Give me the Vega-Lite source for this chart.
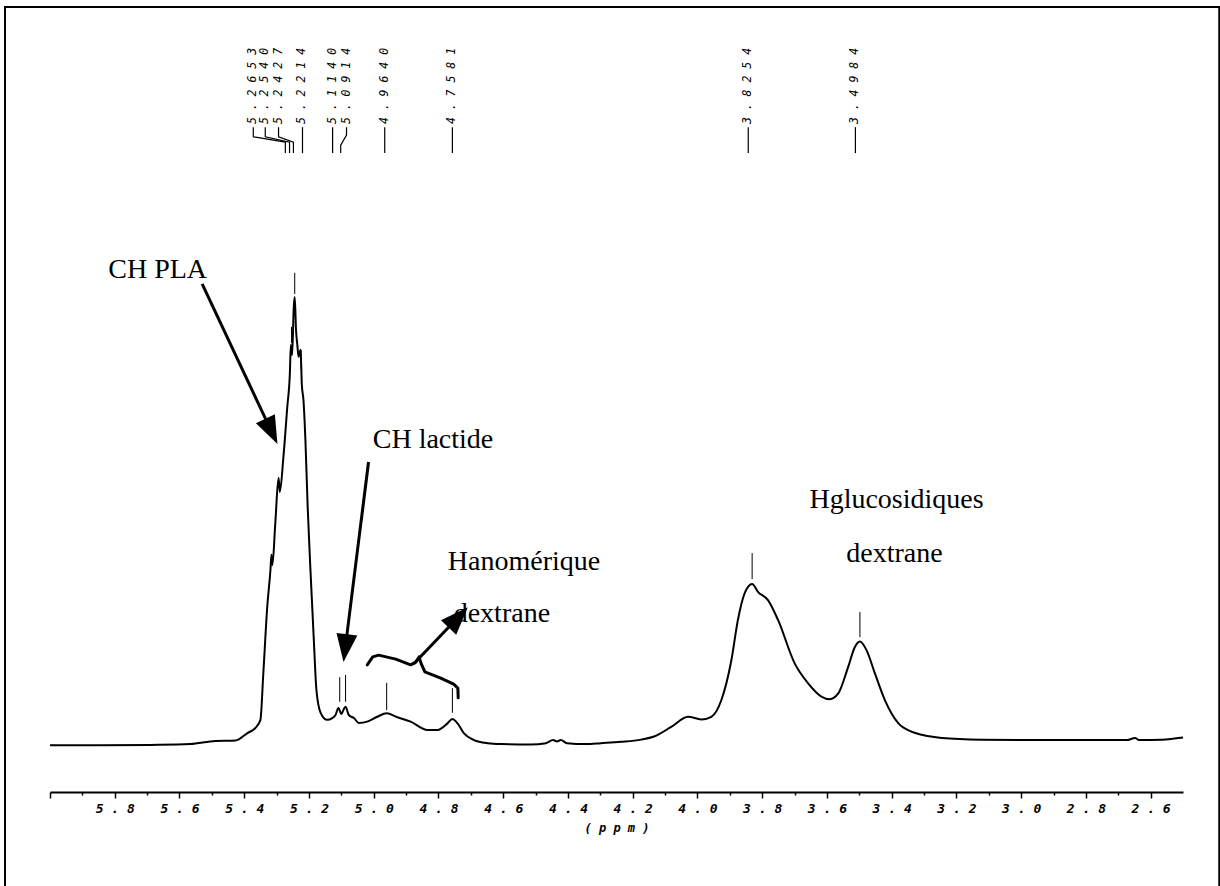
{
  "$schema": "https://vega.github.io/schema/vega-lite/v6.json",
  "width": 1133,
  "height": 792,
  "autosize": {"type": "none"},
  "padding": {"left": 50, "top": 0, "right": 37, "bottom": 94},
  "background": "white",
  "config": {"view": {"stroke": null}},
  "resolve": {"axis": {"x": "independent"}},
  "datasets": {
    "frame": [{"ppm": 6.139, "ppm2": 2.388, "I": 168.4, "I2": -32.3}],
    "spectrum": [
      {"ppm": 6.000, "I": 0.6}, {"ppm": 5.845, "I": 0.6}, {"ppm": 5.690, "I": 0.7}, {"ppm": 5.567, "I": 0.9},
      {"ppm": 5.489, "I": 1.6}, {"ppm": 5.427, "I": 1.7}, {"ppm": 5.390, "I": 3.4}, {"ppm": 5.366, "I": 4.5},
      {"ppm": 5.350, "I": 6.4}, {"ppm": 5.341, "I": 17.0}, {"ppm": 5.329, "I": 32.0}, {"ppm": 5.319, "I": 40.5},
      {"ppm": 5.316, "I": 43.9}, {"ppm": 5.313, "I": 41.6}, {"ppm": 5.304, "I": 51.1}, {"ppm": 5.294, "I": 61.4},
      {"ppm": 5.290, "I": 58.2}, {"ppm": 5.279, "I": 66.1}, {"ppm": 5.267, "I": 77.5}, {"ppm": 5.259, "I": 85.2},
      {"ppm": 5.256, "I": 91.6}, {"ppm": 5.252, "I": 89.3}, {"ppm": 5.247, "I": 100.2}, {"ppm": 5.244, "I": 102.5},
      {"ppm": 5.240, "I": 95.0}, {"ppm": 5.236, "I": 91.6}, {"ppm": 5.232, "I": 88.9}, {"ppm": 5.226, "I": 90.5},
      {"ppm": 5.222, "I": 82.5}, {"ppm": 5.217, "I": 79.1}, {"ppm": 5.211, "I": 70.0}, {"ppm": 5.204, "I": 54.8},
      {"ppm": 5.195, "I": 39.8}, {"ppm": 5.185, "I": 24.5}, {"ppm": 5.177, "I": 13.2}, {"ppm": 5.164, "I": 8.0},
      {"ppm": 5.144, "I": 6.4}, {"ppm": 5.128, "I": 6.8}, {"ppm": 5.118, "I": 7.5}, {"ppm": 5.109, "I": 9.1},
      {"ppm": 5.100, "I": 7.7}, {"ppm": 5.094, "I": 8.6}, {"ppm": 5.087, "I": 9.4}, {"ppm": 5.077, "I": 7.5},
      {"ppm": 5.061, "I": 6.8}, {"ppm": 5.046, "I": 5.7}, {"ppm": 5.020, "I": 6.0}, {"ppm": 4.989, "I": 7.1},
      {"ppm": 4.960, "I": 7.9}, {"ppm": 4.927, "I": 7.0}, {"ppm": 4.886, "I": 6.0}, {"ppm": 4.834, "I": 4.1},
      {"ppm": 4.803, "I": 4.1}, {"ppm": 4.772, "I": 5.6}, {"ppm": 4.757, "I": 6.6}, {"ppm": 4.741, "I": 5.6},
      {"ppm": 4.721, "I": 3.3}, {"ppm": 4.690, "I": 1.8}, {"ppm": 4.648, "I": 1.1}, {"ppm": 4.607, "I": 0.9},
      {"ppm": 4.514, "I": 0.8}, {"ppm": 4.468, "I": 1.1}, {"ppm": 4.446, "I": 1.8}, {"ppm": 4.434, "I": 1.5},
      {"ppm": 4.422, "I": 1.8}, {"ppm": 4.403, "I": 1.1}, {"ppm": 4.344, "I": 0.9}, {"ppm": 4.298, "I": 1.1},
      {"ppm": 4.236, "I": 1.4}, {"ppm": 4.174, "I": 1.9}, {"ppm": 4.134, "I": 2.6}, {"ppm": 4.081, "I": 4.8},
      {"ppm": 4.029, "I": 7.1}, {"ppm": 3.988, "I": 6.5}, {"ppm": 3.957, "I": 7.1}, {"ppm": 3.926, "I": 10.9},
      {"ppm": 3.895, "I": 20.0}, {"ppm": 3.875, "I": 29.1}, {"ppm": 3.854, "I": 35.2}, {"ppm": 3.831, "I": 37.3},
      {"ppm": 3.813, "I": 35.5}, {"ppm": 3.782, "I": 33.6}, {"ppm": 3.751, "I": 29.1}, {"ppm": 3.700, "I": 19.3},
      {"ppm": 3.658, "I": 14.7}, {"ppm": 3.617, "I": 11.7}, {"ppm": 3.591, "I": 11.1}, {"ppm": 3.565, "I": 12.4},
      {"ppm": 3.534, "I": 18.5}, {"ppm": 3.514, "I": 22.9}, {"ppm": 3.498, "I": 24.2}, {"ppm": 3.478, "I": 22.3},
      {"ppm": 3.452, "I": 17.0}, {"ppm": 3.421, "I": 10.9}, {"ppm": 3.379, "I": 5.6}, {"ppm": 3.338, "I": 3.7},
      {"ppm": 3.307, "I": 3.0}, {"ppm": 3.245, "I": 2.3}, {"ppm": 3.122, "I": 1.9}, {"ppm": 2.967, "I": 1.8},
      {"ppm": 2.812, "I": 1.8}, {"ppm": 2.673, "I": 1.8}, {"ppm": 2.648, "I": 2.3}, {"ppm": 2.636, "I": 1.8},
      {"ppm": 2.565, "I": 1.9}, {"ppm": 2.500, "I": 2.4}
    ],
    "markers": [
      {"ppm": 5.244, "I": 108.0, "I2": 103.2},
      {"ppm": 5.254, "I": 95.7, "I2": 92.0},
      {"ppm": 5.224, "I": 90.5, "I2": 86.0},
      {"ppm": 5.105, "I": 16.1, "I2": 10.5},
      {"ppm": 5.087, "I": 16.6, "I2": 10.5},
      {"ppm": 4.960, "I": 14.8, "I2": 8.6},
      {"ppm": 4.757, "I": 13.6, "I2": 8.0},
      {"ppm": 3.831, "I": 44.3, "I2": 38.4},
      {"ppm": 3.498, "I": 30.9, "I2": 25.2}
    ],
    "connectors": [
      {"id": "c1", "ord": 1, "ppm": 5.372, "I": 141.1}, {"id": "c1", "ord": 2, "ppm": 5.372, "I": 138.9},
      {"id": "c1", "ord": 3, "ppm": 5.273, "I": 137.7}, {"id": "c1", "ord": 4, "ppm": 5.273, "I": 135.2},
      {"id": "c2", "ord": 1, "ppm": 5.335, "I": 141.1}, {"id": "c2", "ord": 2, "ppm": 5.335, "I": 138.9},
      {"id": "c2", "ord": 3, "ppm": 5.260, "I": 137.7}, {"id": "c2", "ord": 4, "ppm": 5.260, "I": 135.2},
      {"id": "c3", "ord": 1, "ppm": 5.294, "I": 141.1}, {"id": "c3", "ord": 2, "ppm": 5.294, "I": 138.9},
      {"id": "c3", "ord": 3, "ppm": 5.248, "I": 137.7}, {"id": "c3", "ord": 4, "ppm": 5.248, "I": 135.2},
      {"id": "c4", "ord": 1, "ppm": 5.220, "I": 141.1}, {"id": "c4", "ord": 2, "ppm": 5.220, "I": 135.2},
      {"id": "c5", "ord": 1, "ppm": 5.127, "I": 141.1}, {"id": "c5", "ord": 2, "ppm": 5.127, "I": 135.2},
      {"id": "c6", "ord": 1, "ppm": 5.084, "I": 141.1}, {"id": "c6", "ord": 2, "ppm": 5.084, "I": 139.3},
      {"id": "c6", "ord": 3, "ppm": 5.102, "I": 137.0}, {"id": "c6", "ord": 4, "ppm": 5.102, "I": 135.2},
      {"id": "c7", "ord": 1, "ppm": 4.966, "I": 141.1}, {"id": "c7", "ord": 2, "ppm": 4.966, "I": 135.2},
      {"id": "c8", "ord": 1, "ppm": 4.757, "I": 141.1}, {"id": "c8", "ord": 2, "ppm": 4.757, "I": 135.2},
      {"id": "c9", "ord": 1, "ppm": 3.843, "I": 141.1}, {"id": "c9", "ord": 2, "ppm": 3.843, "I": 135.2},
      {"id": "c10", "ord": 1, "ppm": 3.512, "I": 141.1}, {"id": "c10", "ord": 2, "ppm": 3.512, "I": 135.2}
    ],
    "peaklabels": [
      {"label": "5 . 2 6 5 3", "ppm": 5.372, "I": 141.8},
      {"label": "5 . 2 5 4 0", "ppm": 5.335, "I": 141.8},
      {"label": "5 . 2 4 2 7", "ppm": 5.294, "I": 141.8},
      {"label": "5 . 2 2 1 4", "ppm": 5.220, "I": 141.8},
      {"label": "5 . 1 1 4 0", "ppm": 5.127, "I": 141.8},
      {"label": "5 . 0 9 1 4", "ppm": 5.084, "I": 141.8},
      {"label": "4 . 9 6 4 0", "ppm": 4.966, "I": 141.8},
      {"label": "4 . 7 5 8 1", "ppm": 4.757, "I": 141.8},
      {"label": "3 . 8 2 5 4", "ppm": 3.843, "I": 141.8},
      {"label": "3 . 4 9 8 4", "ppm": 3.512, "I": 141.8}
    ],
    "notes": [
      {"label": "CH PLA", "ppm": 5.820, "I": 106.8},
      {"label": "CH lactide", "ppm": 5.003, "I": 68.2},
      {"label": "Hanomérique", "ppm": 4.771, "I": 40.5},
      {"label": "dextrane", "ppm": 4.753, "I": 28.6},
      {"label": "Hglucosidiques", "ppm": 3.654, "I": 54.5},
      {"label": "dextrane", "ppm": 3.540, "I": 42.3}
    ],
    "arrows": [
      {"id": "pla", "ord": 1, "ppm": 5.530, "I": 105.5}, {"id": "pla", "ord": 2, "ppm": 5.316, "I": 71.95},
      {"id": "lac", "ord": 1, "ppm": 5.016, "I": 65.0}, {"id": "lac", "ord": 2, "ppm": 5.088, "I": 22.7},
      {"id": "han", "ord": 1, "ppm": 4.877, "I": 19.1}, {"id": "han", "ord": 2, "ppm": 4.739, "I": 29.7}
    ],
    "heads": [
      {"id": "pla", "ppm": 5.316, "I": 71.95},
      {"id": "lac", "ppm": 5.088, "I": 22.7},
      {"id": "han", "ppm": 4.739, "I": 29.7}
    ],
    "brace": [
      {"ord": 1, "ppm": 5.020, "I": 18.9}, {"ord": 2, "ppm": 5.003, "I": 20.7}, {"ord": 3, "ppm": 4.985, "I": 21.1},
      {"ord": 4, "ppm": 4.932, "I": 20.2}, {"ord": 5, "ppm": 4.886, "I": 18.9}, {"ord": 6, "ppm": 4.870, "I": 19.5},
      {"ord": 7, "ppm": 4.860, "I": 20.7}, {"ord": 8, "ppm": 4.853, "I": 19.1}, {"ord": 9, "ppm": 4.842, "I": 17.3},
      {"ord": 10, "ppm": 4.793, "I": 15.9}, {"ord": 11, "ppm": 4.753, "I": 14.5}, {"ord": 12, "ppm": 4.740, "I": 13.6},
      {"ord": 13, "ppm": 4.739, "I": 11.4}
    ]
  },
  "layer": [
    {
      "data": {"name": "frame"},
      "mark": {"type": "rect", "filled": false, "stroke": "black", "strokeWidth": 2},
      "encoding": {
        "x": {"field": "ppm", "type": "quantitative", "scale": {"domain": [2.5, 6.0], "reverse": true, "nice": false, "zero": false},
          "axis": {
            "orient": "bottom",
            "values": [5.9, 5.7, 5.5, 5.3, 5.1, 4.9, 4.7, 4.5, 4.3, 4.1, 3.9, 3.7, 3.5, 3.3, 3.1, 2.9, 2.7],
            "title": null,
            "labels": false,
            "domain": false,
            "grid": false,
            "tickColor": "black",
            "tickWidth": 1.5,
            "tickSize": 3
          }
        },
        "x2": {"field": "ppm2"},
        "y": {"field": "I", "type": "quantitative", "scale": {"domain": [-10, 170], "nice": false, "zero": false}, "axis": null},
        "y2": {"field": "I2"}
      }
    },
    {
      "data": {"name": "spectrum"},
      "mark": {"type": "line", "color": "black", "strokeWidth": 2, "interpolate": "monotone"},
      "encoding": {
        "x": {
          "field": "ppm", "type": "quantitative",
          "scale": {"domain": [2.5, 6.0], "reverse": true, "nice": false, "zero": false},
          "axis": {
            "orient": "bottom",
            "values": [6.0, 5.8, 5.6, 5.4, 5.2, 5.0, 4.8, 4.6, 4.4, 4.2, 4.0, 3.8, 3.6, 3.4, 3.2, 3.0, 2.8, 2.6],
            "title": "( p p m )",
            "grid": false,
            "domainColor": "black",
            "domainWidth": 2,
            "tickColor": "black",
            "tickWidth": 1.5,
            "tickSize": 6,
            "labelExpr": "datum.value < 5.95 ? substring(format(datum.value,'.1f'),0,1) + ' . ' + substring(format(datum.value,'.1f'),2,3) : ''",
            "labelFont": "DejaVu Sans Mono",
            "labelFontSize": 13,
            "labelFontWeight": "bold",
            "labelFontStyle": "italic",
            "labelColor": "black",
            "labelPadding": 4,
            "labelOverlap": false,
            "labelFlush": false,
            "labelBound": false,
            "titleFont": "DejaVu Sans Mono",
            "titleFontSize": 12,
            "titleFontWeight": "bold",
            "titleFontStyle": "italic",
            "titleColor": "black",
            "titlePadding": 7
          }
        },
        "y": {"field": "I", "type": "quantitative", "scale": {"domain": [-10, 170], "nice": false, "zero": false}, "axis": null}
      }
    },
    {
      "data": {"name": "markers"},
      "mark": {"type": "rule", "color": "black", "strokeWidth": 1},
      "encoding": {
        "x": {"field": "ppm", "type": "quantitative", "scale": {"domain": [2.5, 6.0], "reverse": true, "nice": false, "zero": false}, "axis": null},
        "y": {"field": "I", "type": "quantitative", "scale": {"domain": [-10, 170], "nice": false, "zero": false}, "axis": null},
        "y2": {"field": "I2"}
      }
    },
    {
      "data": {"name": "connectors"},
      "mark": {"type": "line", "color": "black", "strokeWidth": 1.2},
      "encoding": {
        "x": {"field": "ppm", "type": "quantitative", "scale": {"domain": [2.5, 6.0], "reverse": true, "nice": false, "zero": false}, "axis": null},
        "y": {"field": "I", "type": "quantitative", "scale": {"domain": [-10, 170], "nice": false, "zero": false}, "axis": null},
        "detail": {"field": "id"},
        "order": {"field": "ord", "type": "quantitative"}
      }
    },
    {
      "data": {"name": "peaklabels"},
      "mark": {"type": "text", "angle": 270, "align": "left", "baseline": "middle", "font": "DejaVu Sans Mono", "fontStyle": "italic", "fontSize": 11.5, "color": "black"},
      "encoding": {
        "x": {"field": "ppm", "type": "quantitative", "scale": {"domain": [2.5, 6.0], "reverse": true, "nice": false, "zero": false}, "axis": null},
        "y": {"field": "I", "type": "quantitative", "scale": {"domain": [-10, 170], "nice": false, "zero": false}, "axis": null},
        "text": {"field": "label"}
      }
    },
    {
      "data": {"name": "notes"},
      "mark": {"type": "text", "align": "left", "baseline": "alphabetic", "font": "Liberation Serif", "fontSize": 28, "color": "black"},
      "encoding": {
        "x": {"field": "ppm", "type": "quantitative", "scale": {"domain": [2.5, 6.0], "reverse": true, "nice": false, "zero": false}, "axis": null},
        "y": {"field": "I", "type": "quantitative", "scale": {"domain": [-10, 170], "nice": false, "zero": false}, "axis": null},
        "text": {"field": "label"}
      }
    },
    {
      "data": {"name": "arrows"},
      "mark": {"type": "line", "color": "black", "strokeWidth": 3},
      "encoding": {
        "x": {"field": "ppm", "type": "quantitative", "scale": {"domain": [2.5, 6.0], "reverse": true, "nice": false, "zero": false}, "axis": null},
        "y": {"field": "I", "type": "quantitative", "scale": {"domain": [-10, 170], "nice": false, "zero": false}, "axis": null},
        "detail": {"field": "id"},
        "order": {"field": "ord", "type": "quantitative"}
      }
    },
    {
      "data": {"name": "heads"},
      "transform": [{"filter": "datum.id == 'pla'"}],
      "mark": {"type": "point", "shape": "M0,-1L0.75,1L-0.75,1Z", "filled": true, "color": "black", "opacity": 1, "size": 784, "angle": 154.5},
      "encoding": {
        "x": {"field": "ppm", "type": "quantitative", "scale": {"domain": [2.5, 6.0], "reverse": true, "nice": false, "zero": false}, "axis": null},
        "y": {"field": "I", "type": "quantitative", "scale": {"domain": [-10, 170], "nice": false, "zero": false}, "axis": null}
      }
    },
    {
      "data": {"name": "heads"},
      "transform": [{"filter": "datum.id == 'lac'"}],
      "mark": {"type": "point", "shape": "M0,-1L0.75,1L-0.75,1Z", "filled": true, "color": "black", "opacity": 1, "size": 784, "angle": 187.1},
      "encoding": {
        "x": {"field": "ppm", "type": "quantitative", "scale": {"domain": [2.5, 6.0], "reverse": true, "nice": false, "zero": false}, "axis": null},
        "y": {"field": "I", "type": "quantitative", "scale": {"domain": [-10, 170], "nice": false, "zero": false}, "axis": null}
      }
    },
    {
      "data": {"name": "heads"},
      "transform": [{"filter": "datum.id == 'han'"}],
      "mark": {"type": "point", "shape": "M0,-1L0.75,1L-0.75,1Z", "filled": true, "color": "black", "opacity": 1, "size": 784, "angle": 43.5},
      "encoding": {
        "x": {"field": "ppm", "type": "quantitative", "scale": {"domain": [2.5, 6.0], "reverse": true, "nice": false, "zero": false}, "axis": null},
        "y": {"field": "I", "type": "quantitative", "scale": {"domain": [-10, 170], "nice": false, "zero": false}, "axis": null}
      }
    },
    {
      "data": {"name": "brace"},
      "mark": {"type": "line", "color": "black", "strokeWidth": 3, "strokeJoin": "round", "strokeCap": "round"},
      "encoding": {
        "x": {"field": "ppm", "type": "quantitative", "scale": {"domain": [2.5, 6.0], "reverse": true, "nice": false, "zero": false}, "axis": null},
        "y": {"field": "I", "type": "quantitative", "scale": {"domain": [-10, 170], "nice": false, "zero": false}, "axis": null},
        "order": {"field": "ord", "type": "quantitative"}
      }
    }
  ]
}
